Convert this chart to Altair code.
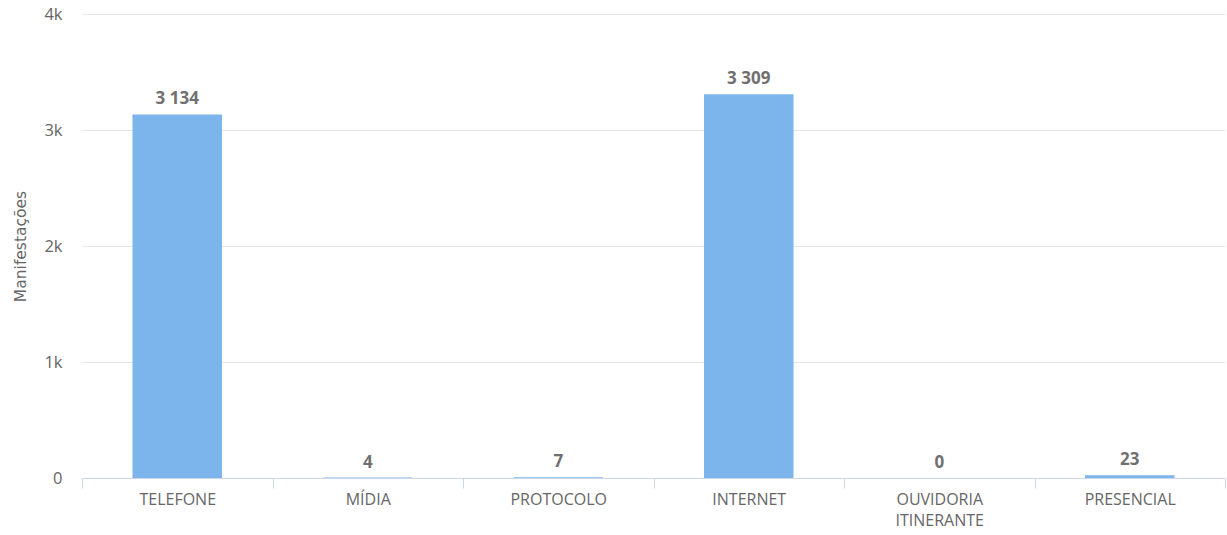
import altair as alt
import pandas as pd

categories = ["TELEFONE", "MÍDIA", "PROTOCOLO", "INTERNET", "OUVIDORIA ITINERANTE", "PRESENCIAL"]
values = [3134, 4, 7, 3309, 0, 23]

df = pd.DataFrame({"canal": categories, "valor": values})
df["rotulo"] = [f"{v:,}".replace(",", " ") for v in values]

FONT = "Open Sans"

x = alt.X(
    "canal:N",
    sort=categories,
    title=None,
    scale=alt.Scale(paddingInner=0, paddingOuter=0),
    axis=alt.Axis(
        labelAngle=0,
        labelExpr="split(datum.label, ' ')",
        labelFont=FONT,
        labelFontSize=16,
        labelColor="#666666",
        labelPadding=3,
        tickBand="extent",
        tickSize=10,
        tickColor="#ccd6eb",
        domainColor="#ccd6eb",
        labelBaseline="top",
        labelLineHeight=21,
    ),
)

y = alt.Y(
    "valor:Q",
    title="Manifestações",
    scale=alt.Scale(domain=[0, 4000], nice=False),
    axis=alt.Axis(
        values=[0, 1000, 2000, 3000, 4000],
        labelExpr="datum.value == 0 ? '0' : (datum.value / 1000) + 'k'",
        labelFont=FONT,
        labelFontSize=16.5,
        labelColor="#666666",
        labelPadding=20,
        ticks=False,
        domain=False,
        gridColor="#e6e6e6",
        titleFont="DejaVu Sans",
        titleFontSize=15.5,
        titleFontWeight="normal",
        titleColor="#666666",
        titlePadding=15,
    ),
)

bars = alt.Chart(df).mark_bar(
    color="#7cb5ec", width=alt.RelativeBandSize(band=0.47)
).encode(x=x, y=y)

labels = alt.Chart(df).mark_text(
    font=FONT,
    fontSize=17,
    fontWeight="bold",
    color="#707070",
    baseline="bottom",
    dy=-6,
).encode(
    x=alt.X("canal:N", sort=categories),
    y=alt.Y("valor:Q"),
    text="rotulo:N",
)

chart = (
    alt.layer(bars, labels)
    .properties(
        width=1143,
        height=464,
        padding={"left": 82, "top": 14, "right": 2, "bottom": 57},
        autosize=alt.AutoSizeParams(type="none"),
        background="white",
    )
    .configure_view(stroke=None)
)

chart.save("out.html", embed_options={"renderer": "svg", "actions": False})
